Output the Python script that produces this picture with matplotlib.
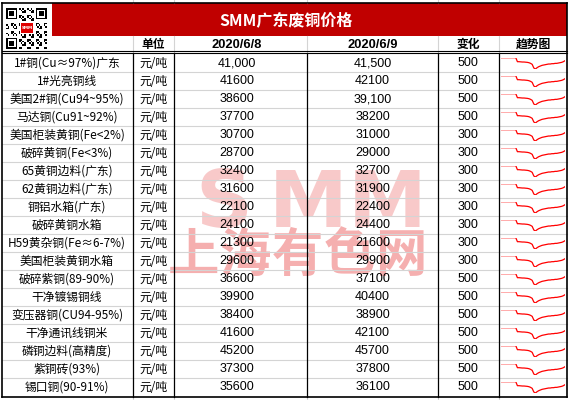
import matplotlib
matplotlib.use("Agg")
import matplotlib.pyplot as plt
from matplotlib.patches import Rectangle

# ---------------- data ----------------
title = "SMM广东废铜价格"
headers = ["", "单位", "2020/6/8", "2020/6/9", "变化", "趋势图"]
names = ["1#铜(Cu≈97%)广东", "1#光亮铜线", "美国2#铜(Cu94~95%)", "马达铜(Cu91~92%)",
         "美国柜装黄铜(Fe<2%)", "破碎黄铜(Fe<3%)", "65黄铜边料(广东)", "62黄铜边料(广东)",
         "铜铝水箱(广东)", "破碎黄铜水箱", "H59黄杂铜(Fe≈6-7%)", "美国柜装黄铜水箱",
         "破碎紫铜(89-90%)", "干净镀锡铜线", "变压器铜(CU94-95%)", "干净通讯线铜米",
         "磷铜边料(高精度)", "紫铜砖(93%)", "锡口铜(90-91%)"]
unit = "元/吨"
price_0608 = [41000, 41600, 38600, 37700, 30700, 28700, 32400, 31600, 22100, 24100,
              21300, 29600, 36600, 39900, 38400, 41600, 45200, 37300, 35600]
price_0609 = [41500, 42100, 39100, 38200, 31000, 29000, 32700, 31900, 22400, 24400,
              21600, 29900, 37100, 40400, 38900, 42100, 45700, 37800, 36100]
change = [500, 500, 500, 500, 300, 300, 300, 300, 300, 300,
          300, 300, 500, 500, 500, 500, 500, 500, 500]
comma_0608 = [0]
comma_0609 = [0, 2]
# relative price level used for every sparkline
trend = [37, 37, 37, 37, 37, 37, 37, 37, 37, 37, 25, 25, 24.5, 24, 24, 23.5, 23, 22, 20, 17,
         6, 3, 7, 10, 12, 14, 15, 16, 17, 18, 18, 19, 19, 20, 20, 21, 22, 23, 25, 28]
wm_latin = ["S", "M", "M"]
wm_cjk = ["上", "海", "有", "色", "网"]

# ---------------- layout ----------------
W, H = 570, 400
fig = plt.figure(figsize=(W / 100, H / 100), dpi=100)
ax = fig.add_axes([0, 0, 1, 1])
ax.set_xlim(0, W)
ax.set_ylim(H, 0)
ax.axis("off")

CJK = ["Noto Sans CJK SC", "DejaVu Sans"]
NUM = ["Liberation Sans", "DejaVu Sans"]

col_edges = [2, 133, 174, 307, 438, 499, 567]
col_centers = [67, 153.5, 237, 372.5, 468, 533]
title_top, title_bot = 3, 36
header_bot = 52
row_top0 = 54
row_h = 18
n = len(names)
table_bot = row_top0 + n * row_h + 0.5

black = "#000000"
grid = "#d4d4d4"

# excel gridlines outside table
for x in col_edges[1:-1]:
    ax.plot([x, x], [0, title_top], color=grid, lw=0.8)
    ax.plot([x, x], [table_bot, H], color=grid, lw=0.8)

# title bar
ax.add_patch(Rectangle((52, title_top), col_edges[-1] - 52, title_bot - title_top,
                       facecolor="#c00000", edgecolor="none", zorder=1))
ax.text(286, (title_top + title_bot) / 2 + 0.5, title, color="white", fontsize=11.5,
        fontweight="bold", family=CJK, ha="center", va="center", zorder=5)

# QR code (decorative)
qx0, qy0, qs = 6, 8, 41
mod = qs / 25.0
def finder(x, y):
    ax.add_patch(Rectangle((x, y), 7 * mod, 7 * mod, facecolor=black, edgecolor="none", zorder=3))
    ax.add_patch(Rectangle((x + mod, y + mod), 5 * mod, 5 * mod, facecolor="white", edgecolor="none", zorder=3))
    ax.add_patch(Rectangle((x + 2 * mod, y + 2 * mod), 3 * mod, 3 * mod, facecolor=black, edgecolor="none", zorder=3))
finder(qx0, qy0)
finder(qx0 + 18 * mod, qy0)
finder(qx0, qy0 + 18 * mod)
for i in range(25):
    for j in range(25):
        if (i < 8 and j < 8) or (i > 16 and j < 8) or (i < 8 and j > 16):
            continue
        if ((i * 7 + j * 3 + i * j) % 5) < 2:
            ax.add_patch(Rectangle((qx0 + i * mod, qy0 + j * mod), mod, mod,
                                   facecolor=black, edgecolor="none", zorder=3))
ax.add_patch(Rectangle((20, 22), 14, 12, facecolor="white", edgecolor="none", zorder=4))
ax.add_patch(Rectangle((21, 23), 12, 10, facecolor="#e00000", edgecolor="none", zorder=4))
ax.text(27, 28.3, "SMM", color="white", fontsize=3, fontweight="bold", ha="center", va="center", zorder=5)

# watermark
for ch, cx in zip(wm_latin, [224, 308, 387]):
    ax.text(cx, 205, ch, color="#f7c0c0", alpha=0.85, fontsize=57, fontweight="heavy",
            family=["DejaVu Sans"], ha="center", va="center", zorder=2)
for ch, cx in zip(wm_cjk, [193, 245, 297, 349, 401]):
    ax.text(cx, 255, ch, color="#f29494", alpha=0.75, fontsize=37, fontweight="bold",
            family=CJK, ha="center", va="center", zorder=2)

# header row
hy = (title_bot + header_bot) / 2 + 0.5
for k in range(1, 6):
    fam = NUM if k in (2, 3) else CJK
    fs = 9.3 if k in (2, 3) else 8.5
    ax.text(col_centers[k], hy, headers[k], fontsize=fs, fontweight="bold", family=fam,
            ha="center", va="center", zorder=5)
for x in col_edges[1:-1]:
    ax.plot([x, x], [title_bot, header_bot], color=grid, lw=0.8, zorder=3)

# double line under header
ax.plot([col_edges[0], col_edges[-1]], [50.8, 50.8], color=black, lw=0.8, zorder=6)
ax.plot([col_edges[0], col_edges[-1]], [53.4, 53.4], color=black, lw=0.8, zorder=6)

# horizontal row lines
for i in range(1, n):
    y = row_top0 + i * row_h
    ax.plot([col_edges[0], col_edges[-1]], [y, y], color=grid, lw=0.8, zorder=3)

# vertical lines in body
for x in col_edges[1:-1]:
    ax.plot([x, x], [53.4, table_bot], color=black, lw=0.9, zorder=6)

# outer border
ax.plot([col_edges[0], col_edges[-1]], [title_top, title_top], color=black, lw=1.2, zorder=6)
ax.plot([col_edges[0], col_edges[-1]], [table_bot, table_bot], color=black, lw=1.2, zorder=6)
ax.plot([col_edges[0], col_edges[0]], [title_top, table_bot], color=black, lw=1.2, zorder=6)
ax.plot([col_edges[-1], col_edges[-1]], [title_top, table_bot], color=black, lw=1.2, zorder=6)

def fmt(v, comma):
    return f"{v:,}" if comma else f"{v}"

for i in range(n):
    top = row_top0 + i * row_h
    yc = top + row_h / 2 + 0.3
    ax.text(col_centers[0], yc, names[i], fontsize=8.5, family=CJK, ha="center", va="center", zorder=5)
    ax.text(col_centers[1], yc, unit, fontsize=8.5, family=CJK, ha="center", va="center", zorder=5)
    ax.text(col_centers[2], yc, fmt(price_0608[i], i in comma_0608), fontsize=9, family=NUM,
            ha="center", va="center", zorder=5)
    ax.text(col_centers[3], yc, fmt(price_0609[i], i in comma_0609), fontsize=9, family=NUM,
            ha="center", va="center", zorder=5)
    ax.text(col_centers[4], yc, str(change[i]), fontsize=9, family=NUM,
            ha="center", va="center", zorder=5)
    # sparkline
    sx0, sx1 = 501, 565
    sy0, sy1 = top + 3.7, top + 15
    sax = fig.add_axes([sx0 / W, 1 - sy1 / H, (sx1 - sx0) / W, (sy1 - sy0) / H])
    sax.plot(range(len(trend)), trend, color="#ff0000", lw=0.9)
    sax.set_xlim(0, len(trend) - 1)
    sax.set_ylim(min(trend), max(trend))
    sax.axis("off")
    sax.patch.set_alpha(0)

fig.savefig("out.png", dpi=100)
